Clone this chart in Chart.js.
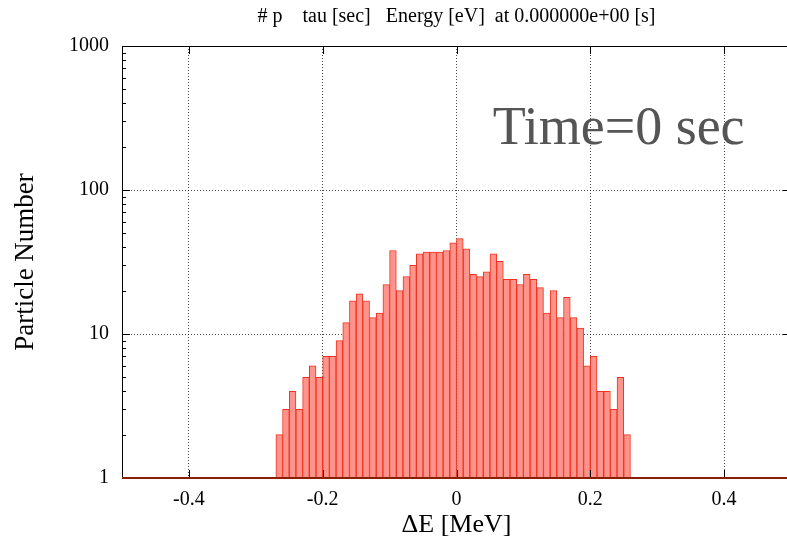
<!DOCTYPE html>
<html>
<head>
<meta charset="utf-8">
<script src="https://cdn.jsdelivr.net/npm/chart.js@4"></script>
<style>
  html, body { margin: 0; padding: 0; background: #fff; overflow: hidden; }
  #wrap { width: 800px; height: 546px; position: relative; }
</style>
</head>
<body>
<div id="wrap"><canvas id="chart"></canvas></div>
<script>
// bin centres of the histogram (MeV)
const binCenters = [
  -0.265, -0.255, -0.245, -0.235, -0.225, -0.215, -0.205, -0.195, -0.185, -0.175,
  -0.165, -0.155, -0.145, -0.135, -0.125, -0.115, -0.105, -0.095, -0.085, -0.075,
  -0.065, -0.055, -0.045, -0.035, -0.025, -0.015, -0.005,
  0.005, 0.015, 0.025, 0.035, 0.045, 0.055, 0.065, 0.075, 0.085, 0.095,
  0.105, 0.115, 0.125, 0.135, 0.145, 0.155, 0.165, 0.175, 0.185, 0.195,
  0.205, 0.215, 0.225, 0.235, 0.245, 0.255
];
// particle count per bin
const counts = [
  2, 3, 4, 3, 5, 6, 5, 7, 7, 9,
  12, 17, 19, 17, 13, 14, 22, 38, 20, 25,
  30, 36, 37, 37, 37, 38, 43,
  46, 39, 26, 25, 27, 36, 32, 24, 24, 22,
  26, 24, 21, 14, 20, 13, 18, 13, 11, 6,
  7, 4, 4, 3, 5, 2
];
const xTicks = [-0.4, -0.2, 0, 0.2, 0.4];
const yTicks = [1, 10, 100, 1000];

const serif = '"Liberation Serif", "DejaVu Serif", serif';

function line(ctx, x1, y1, x2, y2) {
  ctx.beginPath();
  ctx.moveTo(x1, y1);
  ctx.lineTo(x2, y2);
  ctx.stroke();
}

// gnuplot style frame, inward tick marks, baseline and the label
const frame = {
  id: 'frame',
  afterDraw(chart) {
    const {ctx, chartArea: a, scales: {x, y}} = chart;
    ctx.save();
    ctx.strokeStyle = '#000';
    ctx.lineWidth = 1;
    // y ticks: major at decades, minor 2..9
    for (let d = 1; d < 1000; d *= 10) {
      for (let m = 1; m < 10; m++) {
        const py = Math.round(y.getPixelForValue(d * m)) + 0.5;
        const len = m === 1 ? 8 : 4;
        line(ctx, a.left, py, a.left + len, py);
        line(ctx, a.right, py, a.right - len, py);
      }
    }
    xTicks.forEach(v => {
      const px = Math.round(x.getPixelForValue(v)) + 0.5;
      line(ctx, px, a.bottom, px, a.bottom - 8);
      line(ctx, px, a.top, px, a.top + 8);
    });
    ctx.strokeRect(Math.round(a.left) + 0.5, Math.round(a.top) + 0.5,
      Math.round(a.right - a.left), Math.round(a.bottom - a.top));
    // zero-level line of the histogram
    ctx.strokeStyle = '#8b2000';
    ctx.lineWidth = 2;
    line(ctx, a.left, Math.round(a.bottom), a.right, Math.round(a.bottom));
    // time label
    ctx.fillStyle = '#555';
    ctx.font = '54px ' + serif;
    ctx.textBaseline = 'alphabetic';
    ctx.fillText('Time=0 sec', x.getPixelForValue(0.054), a.top + 98);
    ctx.restore();
  }
};

const ctx = document.getElementById('chart').getContext('2d');
window.myChart = new Chart(ctx, {
  type: 'bar',
  data: {
    datasets: [{
      data: binCenters.map((c, i) => ({x: c, y: counts[i]})),
      backgroundColor: '#ff948d',
      borderColor: '#f0321e',
      borderWidth: 1,
      barPercentage: 1,
      categoryPercentage: 1
    }]
  },
  options: {
    responsive: true,
    maintainAspectRatio: false,
    animation: false,
    layout: { padding: { left: 0, right: 9, top: 0, bottom: 0 } },
    plugins: {
      legend: { display: false },
      tooltip: { enabled: false },
      title: {
        display: true,
        fullSize: false,
        text: '# p    tau [sec]   Energy [eV]  at 0.000000e+00 [s]',
        color: '#000',
        font: { family: serif, size: 20, weight: 'normal' },
        padding: { top: 5, bottom: 17 }
      }
    },
    scales: {
      x: {
        type: 'linear',
        min: -0.5,
        max: 0.5,
        offset: false,
        afterBuildTicks: s => { s.ticks = xTicks.map(v => ({value: v})); },
        afterFit: s => { s.height = 68; },
        grid: { offset: false, drawTicks: false, color: 'rgba(0,0,0,0.7)' },
        border: { display: false, dash: [1, 2] },
        ticks: {
          padding: 10,
          color: '#000',
          font: { family: serif, size: 20 },
          callback: v => String(v)
        },
        title: {
          display: true,
          text: 'ΔE [MeV]',
          color: '#000',
          font: { family: serif, size: 26 },
          padding: { top: 0, bottom: 5 }
        }
      },
      y: {
        type: 'logarithmic',
        min: 1,
        max: 1000,
        afterBuildTicks: s => { s.ticks = yTicks.map(v => ({value: v})); },
        afterFit: s => { s.width = 122; },
        grid: { drawTicks: false, color: 'rgba(0,0,0,0.7)' },
        border: { display: false, dash: [1, 2] },
        ticks: {
          padding: 13,
          color: '#000',
          font: { family: serif, size: 20 },
          callback: v => String(v)
        },
        title: {
          display: true,
          text: 'Particle Number',
          color: '#000',
          font: { family: serif, size: 27 },
          padding: { top: 10, bottom: 0 }
        }
      }
    }
  },
  plugins: [frame]
});
</script>
</body>
</html>
